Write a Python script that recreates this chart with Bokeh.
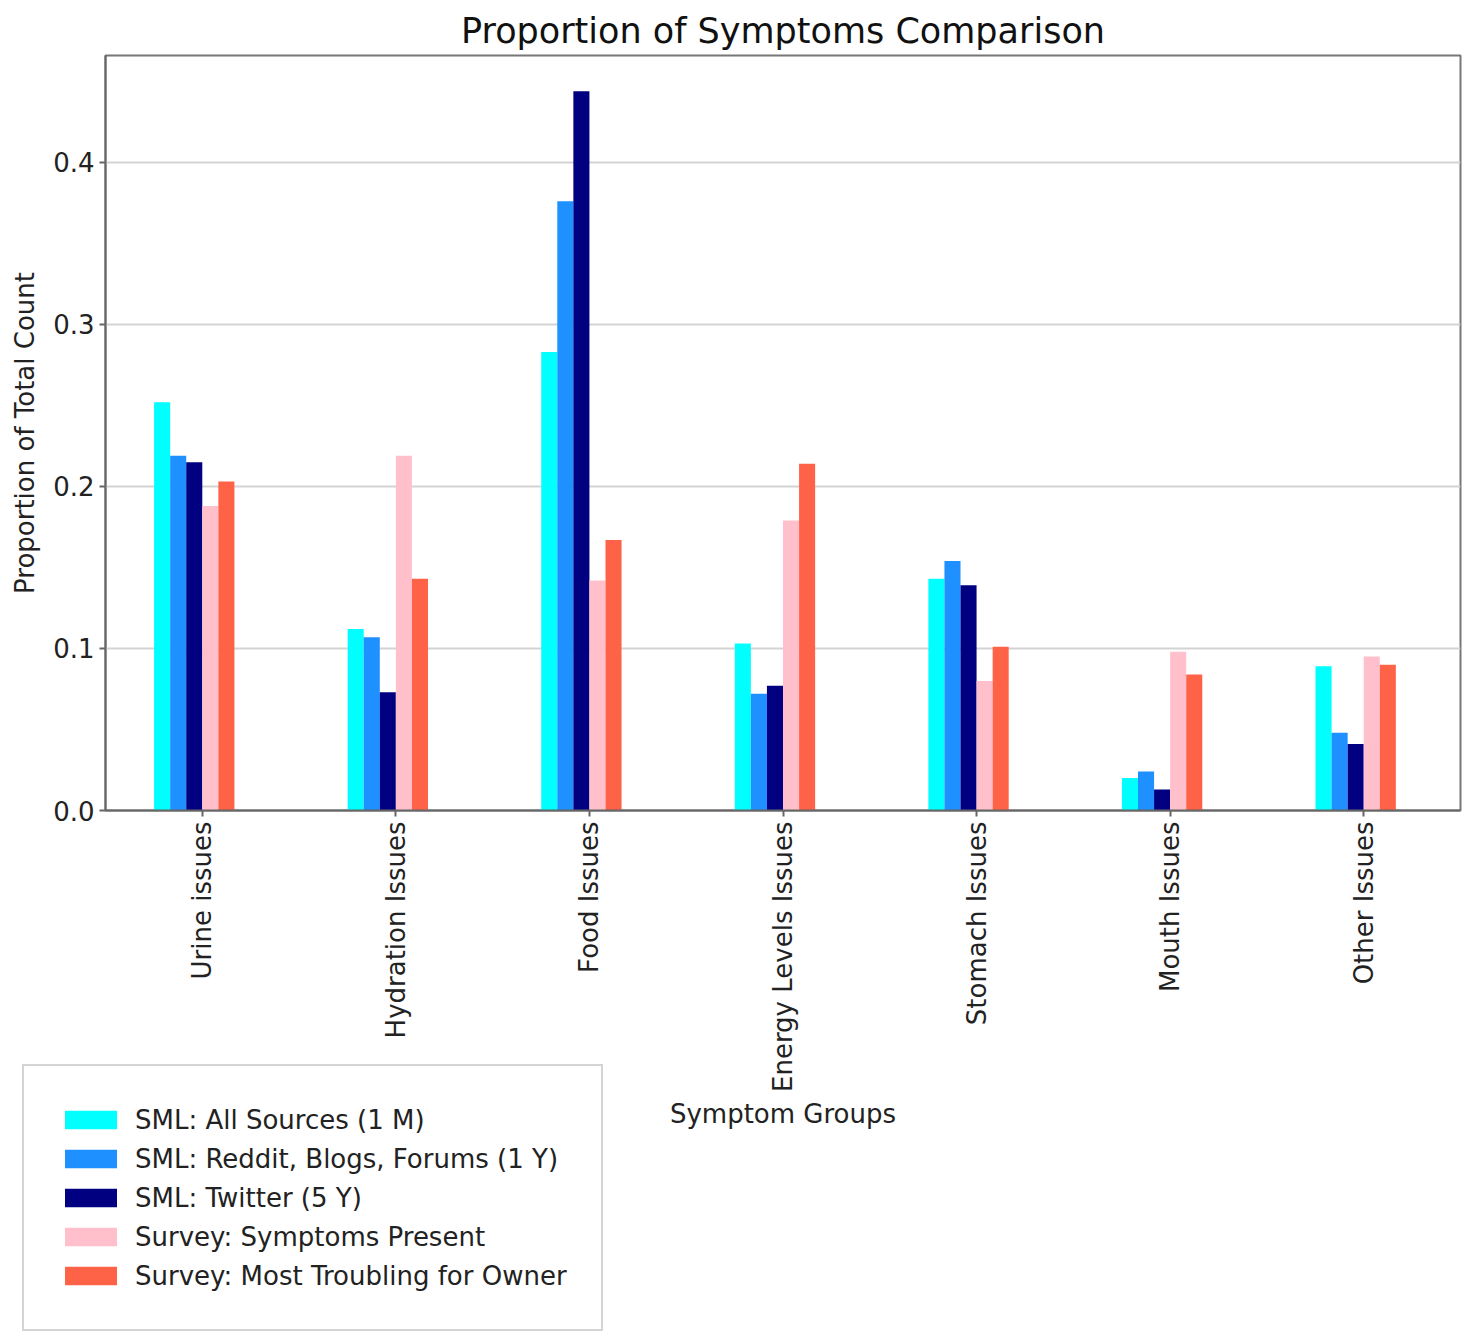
from bokeh.plotting import figure
from bokeh.models import (ColumnDataSource, FactorRange, Range1d, FixedTicker,
                          NumeralTickFormatter, Legend, LegendItem)
from bokeh.transform import dodge
from bokeh.embed import file_html
from bokeh.resources import INLINE
import math

categories = ["Urine issues", "Hydration Issues", "Food Issues",
              "Energy Levels Issues", "Stomach Issues", "Mouth Issues", "Other Issues"]
sml_all_sources = [0.252, 0.112, 0.283, 0.103, 0.143, 0.020, 0.089]
sml_reddit_blogs = [0.219, 0.107, 0.376, 0.072, 0.154, 0.024, 0.048]
sml_twitter = [0.215, 0.073, 0.444, 0.077, 0.139, 0.013, 0.041]
survey_present = [0.188, 0.219, 0.142, 0.179, 0.080, 0.098, 0.095]
survey_troubling = [0.203, 0.143, 0.167, 0.214, 0.101, 0.084, 0.090]

series_names = ["SML: All Sources (1 M)", "SML: Reddit, Blogs, Forums (1 Y)",
                "SML: Twitter (5 Y)", "Survey: Symptoms Present",
                "Survey: Most Troubling for Owner"]
series_keys = ["all", "reddit", "twitter", "present", "troubling"]
colors = ["#00FFFF", "#1E90FF", "#000080", "#FFC0CB", "#FF6347"]
y_ticks = [0.0, 0.1, 0.2, 0.3, 0.4]

source = ColumnDataSource(data=dict(
    cat=categories, all=sml_all_sources, reddit=sml_reddit_blogs,
    twitter=sml_twitter, present=survey_present, troubling=survey_troubling))

FONT = "DejaVu Sans"
p = figure(width=1470, height=1334, output_backend="svg", toolbar_location=None,
           x_range=FactorRange(*categories, range_padding=0),
           y_range=Range1d(0, 0.466),
           title="Proportion of Symptoms Comparison",
           min_border_left=105, min_border_right=10, min_border_top=55,
           min_border_bottom=524)

bw = 0.083
offsets = [-0.2075, -0.1245, -0.0415, 0.0415, 0.1245]
for key, off, col in zip(series_keys, offsets, colors):
    p.vbar(x=dodge("cat", off, range=p.x_range), top=key, width=bw,
           source=source, fill_color=col, line_color=None)

p.title.text_font = FONT
p.title.text_font_size = "35px"
p.title.text_font_style = "normal"
p.title.align = "center"
p.title.text_color = "#111111"

p.xaxis.axis_label = "Symptom Groups"
p.yaxis.axis_label = "Proportion of Total Count"
for ax in (p.xaxis, p.yaxis):
    ax.axis_label_text_font = FONT
    ax.axis_label_text_font_size = "26px"
    ax.axis_label_text_font_style = "normal"
    ax.axis_label_text_color = "#222222"
    ax.major_label_text_font = FONT
    ax.major_label_text_color = "#222222"
    ax.axis_line_color = "#666666"
    ax.axis_line_width = 2
    ax.major_tick_line_color = "#666666"
    ax.major_tick_line_width = 2
    ax.major_tick_out = 6
    ax.major_tick_in = 0
    ax.minor_tick_line_color = None
p.xaxis.major_label_text_font_size = "26px"
p.yaxis.major_label_text_font_size = "26px"
p.xaxis.major_label_orientation = math.pi / 2
p.xaxis.axis_label_standoff = 4
p.yaxis.axis_label_standoff = 10
p.yaxis.ticker = FixedTicker(ticks=y_ticks)
p.yaxis.formatter = NumeralTickFormatter(format="0.0")

p.xgrid.grid_line_color = None
p.ygrid.grid_line_color = "#d3d3d3"
p.ygrid.grid_line_width = 2
p.outline_line_color = "#777777"
p.outline_line_width = 2

# legend drawn in a transparent companion figure overlapping the bottom-left area
lf = figure(width=640, height=272, output_backend="svg", toolbar_location=None,
            x_range=Range1d(0, 1), y_range=Range1d(0, 1),
            x_axis_location=None, y_axis_location=None,
            min_border=0, min_border_left=0, min_border_right=0,
            min_border_top=0, min_border_bottom=0)
lf.grid.visible = False
lf.outline_line_color = None
lf.background_fill_color = None
lf.border_fill_color = None
lf.background_fill_alpha = 0
lf.border_fill_alpha = 0
items = []
for name, col in zip(series_names, colors):
    r = lf.vbar(x=[0.5], top=[0.0], width=0.0, fill_color=col, line_color=None)
    items.append(LegendItem(label=name, renderers=[r]))
legend = Legend(items=items, location=(22, 2))
legend.label_text_font = FONT
legend.label_text_font_size = "26px"
legend.label_text_color = "#222222"
legend.label_height = 39
legend.glyph_height = 23
legend.glyph_width = 65
legend.label_standoff = 12
legend.spacing = 0
legend.padding = 34
legend.margin = 0
legend.border_line_color = "#aaaaaa"
legend.border_line_width = 2
legend.background_fill_color = "white"
legend.background_fill_alpha = 1.0
lf.add_layout(legend, "center")
lf.margin = (-273, 0, 0, 0)
lf.styles = {"margin-top": "-273px"}

open("out.html", "w").write(file_html([p, lf], INLINE))
